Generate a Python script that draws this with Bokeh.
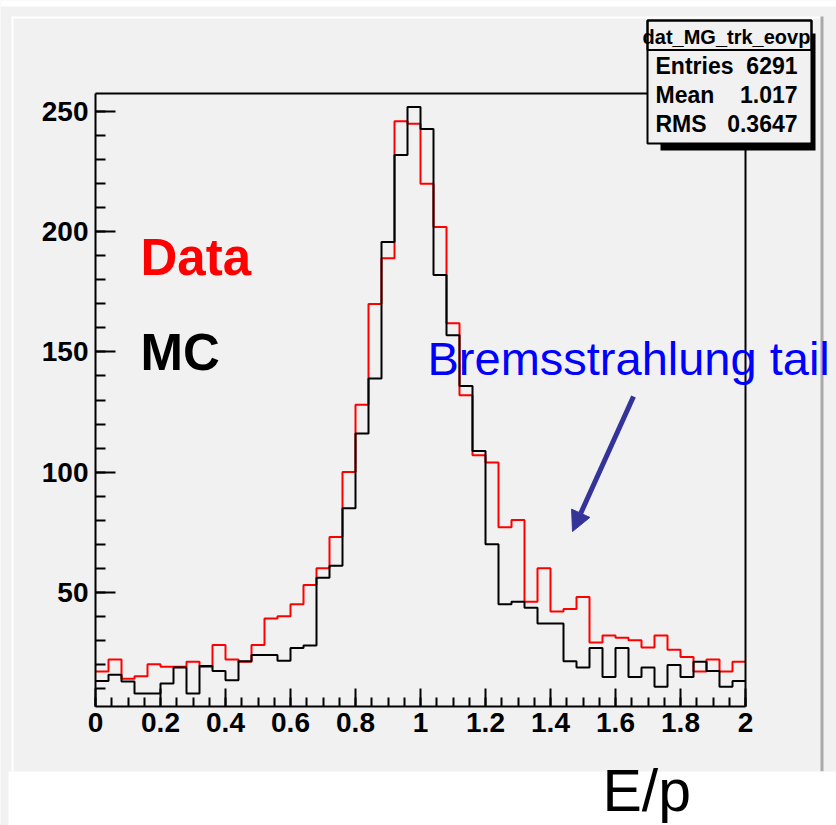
from bokeh.plotting import figure
from bokeh.models import (Range1d, FixedTicker, CustomJSTickFormatter, LinearAxis,
                          BoxAnnotation, Label, Arrow, NormalHead)
from bokeh.embed import file_html
from bokeh.resources import INLINE

# E/p histogram, 50 bins between 0 and 2
x_lo, x_hi, n_bins = 0.0, 2.0, 50

data_counts = [17, 22, 14, 15, 20, 19, 19, 21, 19, 28,
               22, 21, 28, 39, 40, 45, 53, 60, 73, 100,
               128, 170, 189, 246, 245, 220, 202, 162, 132, 107,
               104, 77, 80, 46, 60, 42, 43, 48, 29, 32,
               31, 30, 27, 32, 26, 23, 17, 22, 17, 21]

mc_counts = [13.0, 15.6, 12.8, 7.8, 7.8, 12.0, 18.6, 7.8, 19.3, 17.2,
             13.3, 21.2, 23.8, 23.8, 21.4, 26.8, 27.8, 56.0, 61.0, 84.9,
             116.1, 139.0, 195.8, 232.0, 252.0, 242.8, 182.0, 157.0, 135.8, 108.8,
             69.9, 45.0, 46.0, 43.5, 37.0, 37.0, 21.2, 18.6, 26.8, 14.7,
             26.8, 14.7, 18.6, 10.6, 19.7, 14.7, 21.0, 17.2, 10.6, 13.0]

x_ticks = [0, 0.2, 0.4, 0.6, 0.8, 1, 1.2, 1.4, 1.6, 1.8, 2]
y_ticks = [50, 100, 150, 200, 250]

hist_name = "dat_MG_trk_eovp"
stats = [("Entries", "6291"), ("Mean", "1.017"), ("RMS", "0.3647")]

# ROOT-like automatic y range of the drawn histogram
d_min, d_max = min(data_counts), max(data_counts)
margin = 0.05 * (d_max - d_min)
y_lo, y_hi = d_min - margin, d_max + margin

bin_w = (x_hi - x_lo) / n_bins
edges = [x_lo + i * bin_w for i in range(n_bins + 1)]

PAD = "#f1f1f1"
FONT = "Liberation Sans"
W, H = 836, 825

# histogram frame inside the canvas (pixels from the top-left corner)
FL, FR, FT, FB = 95, 745, 93, 706
sx = (FR - FL) / (x_hi - x_lo)
sy = (FB - FT) / (y_hi - y_lo)
x_range = Range1d(x_lo - FL / sx, x_hi + (W - FR) / sx)
y_range = Range1d(y_lo - (H - FB) / sy, y_hi + FT / sy)

p = figure(width=W, height=H, x_range=x_range, y_range=y_range,
           output_backend="svg", toolbar_location=None,
           min_border_left=0, min_border_right=0, min_border_top=0, min_border_bottom=0)
p.background_fill_color = PAD
p.border_fill_color = PAD
p.outline_line_color = None
p.xgrid.visible = False
p.ygrid.visible = False

# histograms as step outlines
p.step(x=edges, y=data_counts + [data_counts[-1]], mode="after",
       line_color="#ff0000", line_width=2)
p.step(x=edges, y=mc_counts + [mc_counts[-1]], mode="after",
       line_color="#000000", line_width=2)

xa = p.xaxis[0]
xa.fixed_location = y_lo
xa.bounds = (x_lo, x_hi)
xa.ticker = FixedTicker(ticks=x_ticks, minor_ticks=[round(0.05 * i, 2) for i in range(41)])
xa.formatter = CustomJSTickFormatter(code="return String(Math.round(tick * 10) / 10)")
xa.major_tick_in, xa.major_tick_out = 18, 0
xa.minor_tick_in, xa.minor_tick_out = 9, 0
xa.major_label_standoff = 6

ya = p.yaxis[0]
ya.fixed_location = x_lo
ya.bounds = (y_lo, y_hi)
ya.ticker = FixedTicker(ticks=y_ticks, minor_ticks=[10 * i for i in range(1, 26)])
ya.major_tick_in, ya.major_tick_out = 20, 0
ya.minor_tick_in, ya.minor_tick_out = 10, 0
ya.major_label_standoff = 7

for ax in (xa, ya):
    ax.axis_line_width = 2
    ax.axis_line_color = "black"
    ax.major_tick_line_width = 2
    ax.minor_tick_line_width = 2
    ax.major_tick_line_color = "black"
    ax.minor_tick_line_color = "black"
    ax.major_label_text_font = FONT
    ax.major_label_text_font_style = "bold"
    ax.major_label_text_font_size = "28px"
    ax.major_label_text_color = "black"

# plain frame lines on top and right
for side, loc, bnd in (("above", y_hi, (x_lo, x_hi)), ("right", x_hi, (y_lo, y_hi))):
    fr = LinearAxis(ticker=FixedTicker(ticks=[]), axis_line_width=2, axis_line_color="black",
                    major_tick_line_color=None, minor_tick_line_color=None,
                    major_label_text_font_size="0px", fixed_location=loc, bounds=bnd)
    p.add_layout(fr, side)


def cbox(left, right, top, bottom, color, line=None, lw=0):
    """Box in canvas pixels measured from the top-left corner."""
    return BoxAnnotation(left=left, right=right, top=top, bottom=bottom,
                         left_units="canvas", right_units="canvas",
                         top_units="canvas", bottom_units="canvas",
                         fill_color=color, fill_alpha=1.0 if color else 0.0,
                         line_color=line, line_alpha=1.0, line_width=lw)


def clabel(x, base, text, size, color="black", bold=False, align="left"):
    """Text whose baseline sits at canvas row `base`."""
    return Label(x=x, y=base - 0.355 * size, x_units="canvas", y_units="canvas", text=text,
                 text_font=FONT, text_font_size=f"{size}px", text_color=color,
                 text_font_style="bold" if bold else "normal",
                 text_align=align, text_baseline="middle")


# canvas surroundings and pad bevel
p.add_layout(cbox(0, W, 0, 6, "white"))
p.add_layout(cbox(11, 13, 16, 771, "white"))
p.add_layout(cbox(11, 820, 16, 18, "white"))
p.add_layout(cbox(820, 823, 16, 771, "#a9a9a9"))
p.add_layout(cbox(8, W, 771, H, "white"))

# statistics box
p.add_layout(cbox(660, 815, 33, 150, "black"))
p.add_layout(cbox(647, 811, 20, 143, PAD, "black", 2))
p.add_layout(cbox(647, 811, 20, 49.5, None, "black", 2))
p.add_layout(clabel(726, 44, hist_name, 20, bold=True, align="center"))
for i, (name, val) in enumerate(stats):
    base = 73.5 + 29 * i
    p.add_layout(clabel(655, base, name, 23, bold=True))
    p.add_layout(clabel(797, base, val, 23, bold=True, align="right"))

# legend-like texts and annotation
p.add_layout(clabel(140, 275, "Data", 51, color="#ff0000", bold=True))
p.add_layout(clabel(140, 370, "MC", 51, color="black", bold=True))
p.add_layout(clabel(427, 375, "Bremsstrahlung tail", 47, color="#0000ff"))
p.add_layout(Arrow(x_start=633, y_start=396, x_end=572, y_end=531,
                   start_units="canvas", end_units="canvas",
                   line_color="#333399", line_width=5,
                   end=NormalHead(size=20, fill_color="#333399", line_color="#333399")))
p.add_layout(clabel(602, 811, "E/p", 59))

open("out.html", "w").write(file_html(p, INLINE))
